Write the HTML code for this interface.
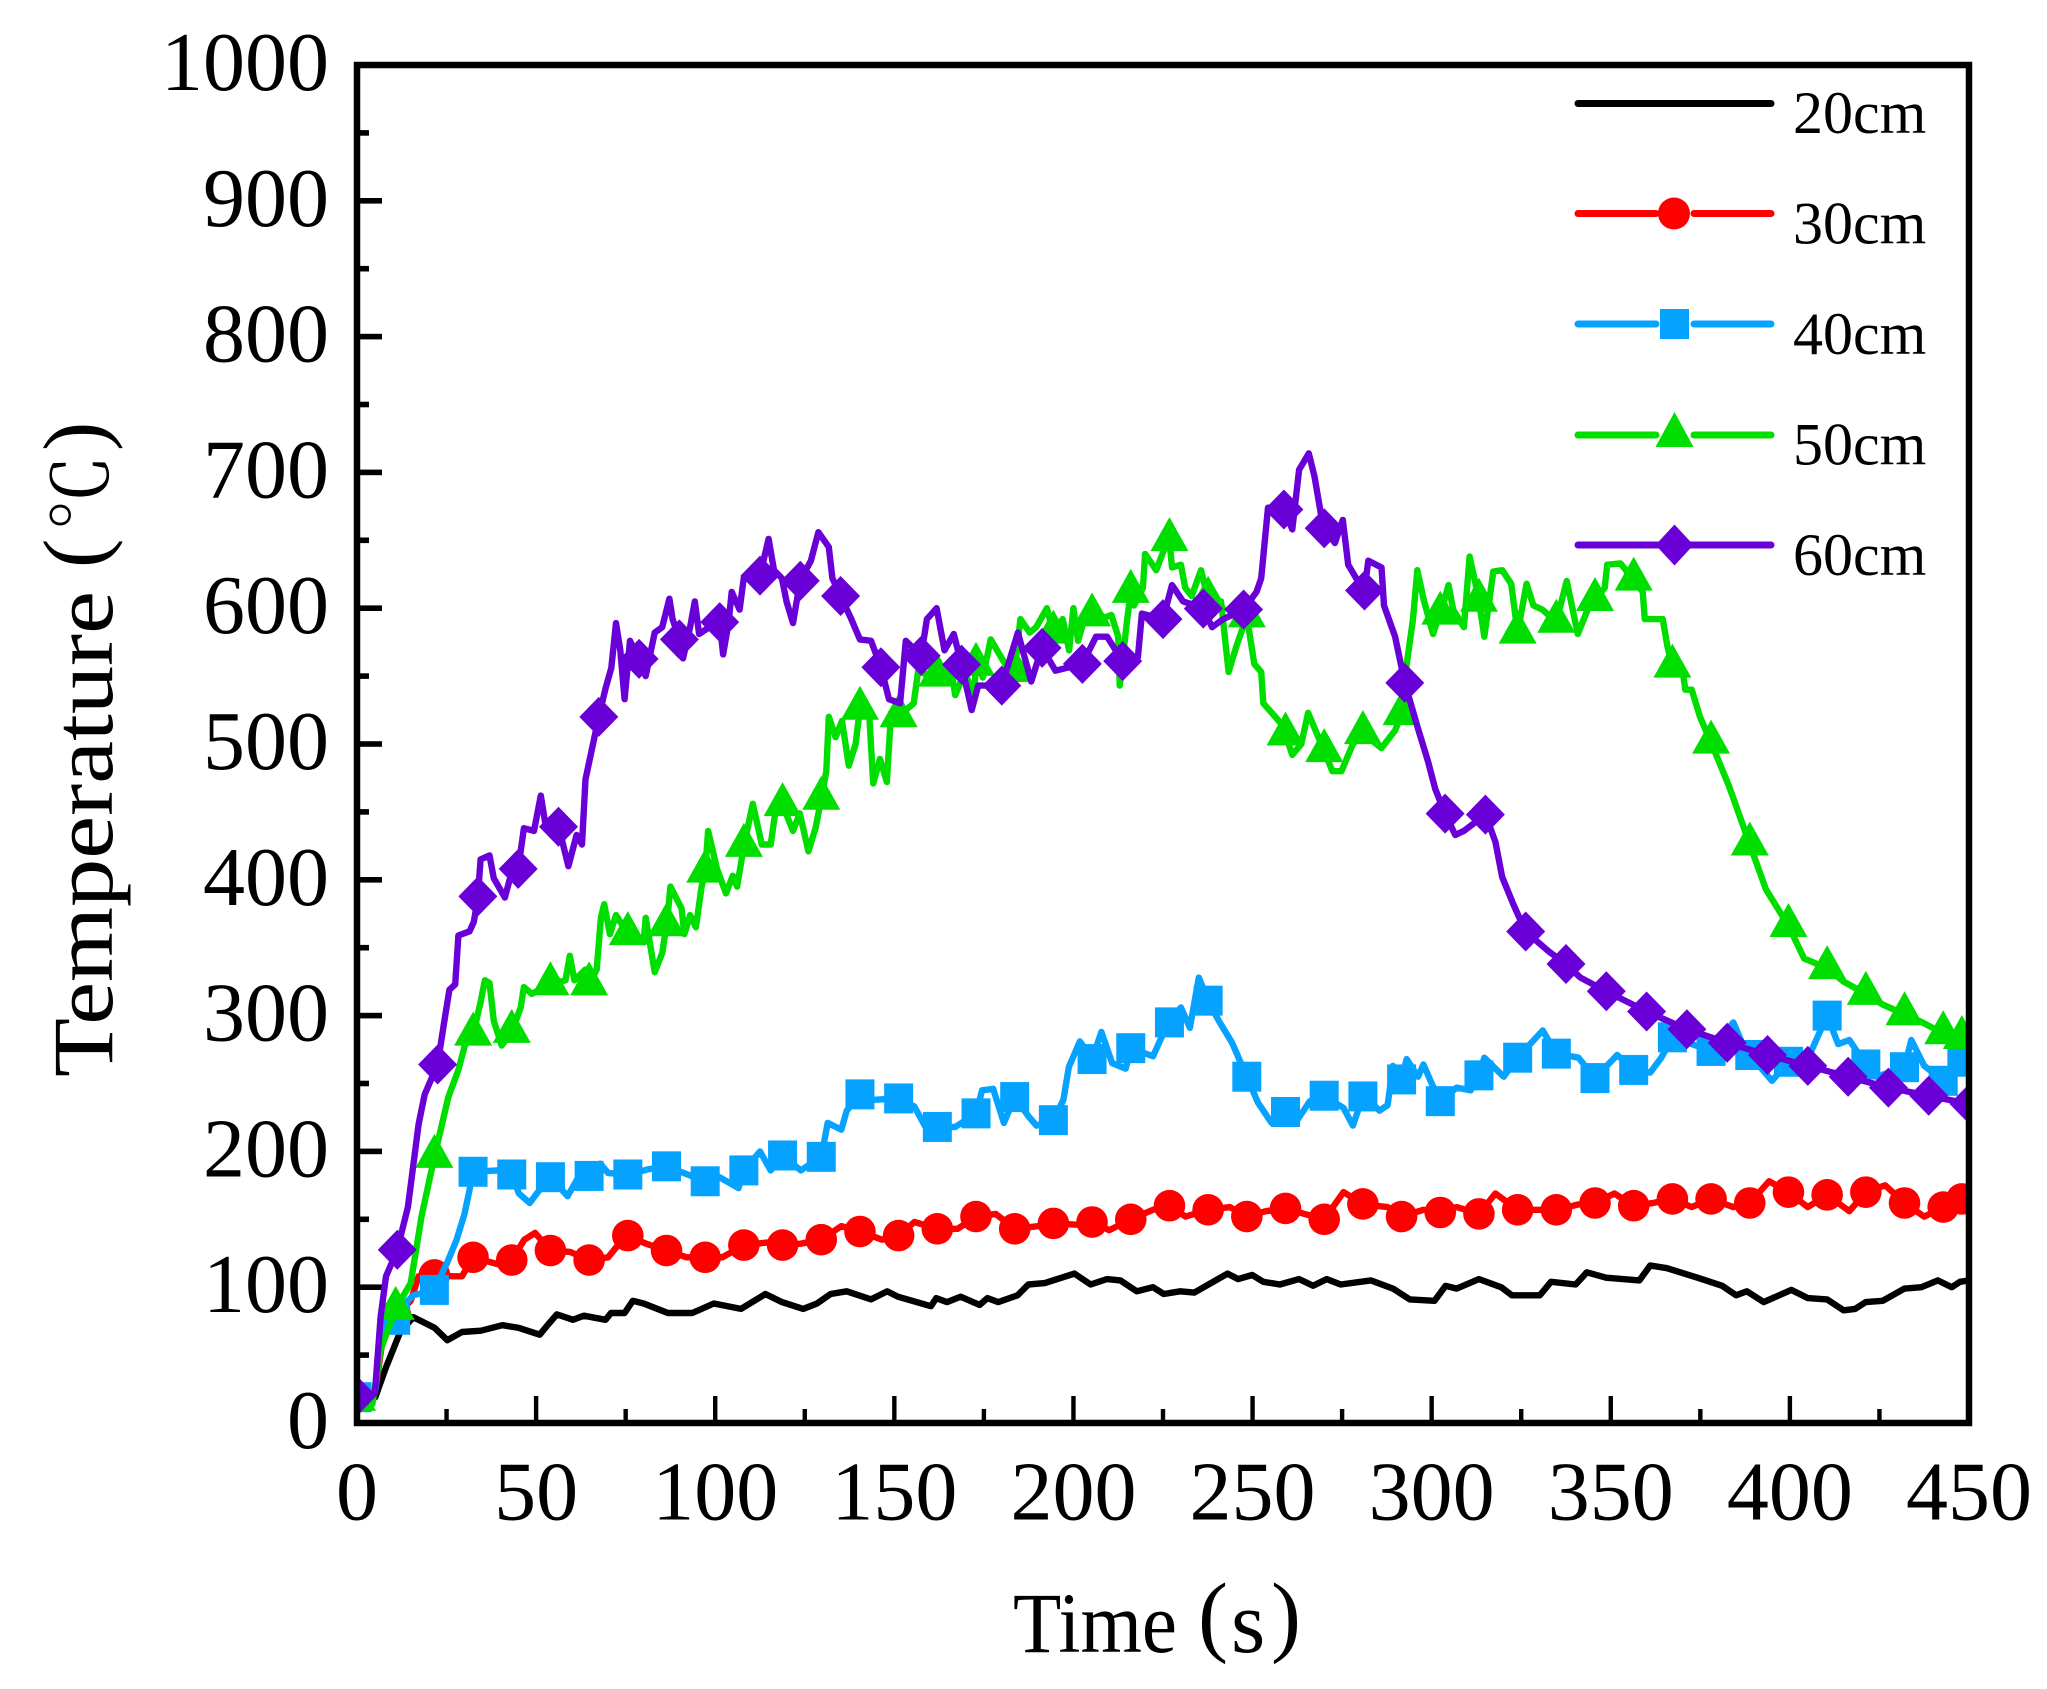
<!DOCTYPE html>
<html lang="en">
<head>
<meta charset="utf-8">
<title>Temperature vs Time</title>
<style>
  html, body { margin: 0; padding: 0; background: #fff; }
  svg { display: block; font-family: "Liberation Serif", "Noto Serif CJK SC", serif; fill: #000; }
</style>
</head>
<body>
<svg id="chart" xmlns="http://www.w3.org/2000/svg" width="2047" height="1689" viewBox="0 0 2047 1689">
  <defs>
    <clipPath id="plot-clip"><rect x="357" y="65" width="1612" height="1358"></rect></clipPath>
  </defs>
  <rect x="0" y="0" width="2047" height="1689" fill="#ffffff"></rect>
  <g id="ticks"></g>
  <g id="series" clip-path="url(#plot-clip)"></g>
  <rect x="357" y="65" width="1612" height="1358" fill="none" stroke="#000" stroke-width="6.5"></rect>
  <g id="tick-labels" font-size="84"></g>

  <g>
    <text x="1013" y="1652" font-size="86" textLength="164" lengthAdjust="spacingAndGlyphs">Time</text>
    <text x="1198" y="1645" font-size="90">(</text>
    <text x="1231" y="1652" font-size="88">s</text>
    <text x="1271" y="1645" font-size="90">)</text>
  </g>
  <g>
    <text transform="translate(112,1077) rotate(-90)" font-size="86" textLength="486" lengthAdjust="spacingAndGlyphs">Temperature</text>
    <text transform="translate(104,1071) rotate(-90) translate(503,0)" font-size="88">(</text>
    <text transform="translate(108,1071) rotate(-90) translate(540,0)" font-size="76" font-family="'Noto Serif CJK SC', serif">℃</text>
    <text transform="translate(104,1071) rotate(-90) translate(620,0)" font-size="88">)</text>
  </g>

  <g font-size="60">
    <g>
      <line x1="1578" x2="1771" y1="103.5" y2="103.5" stroke="#000000" stroke-width="7" stroke-linecap="round"></line>
      <text x="1793" y="133">20cm</text>
    </g>
    <g>
      <line x1="1578" x2="1656" y1="213.5" y2="213.5" stroke="#ff0000" stroke-width="7" stroke-linecap="round"></line>
      <line x1="1694" x2="1771" y1="213.5" y2="213.5" stroke="#ff0000" stroke-width="7" stroke-linecap="round"></line>
      <circle cx="1674" cy="213.5" r="16" fill="#ff0000"></circle>
      <text x="1793" y="243.5">30cm</text>
    </g>
    <g>
      <line x1="1578" x2="1656" y1="324" y2="324" stroke="#05a3ff" stroke-width="7" stroke-linecap="round"></line>
      <line x1="1694" x2="1771" y1="324" y2="324" stroke="#05a3ff" stroke-width="7" stroke-linecap="round"></line>
      <rect x="1660" y="309" width="29" height="30" fill="#05a3ff"></rect>
      <text x="1793" y="354">40cm</text>
    </g>
    <g>
      <line x1="1578" x2="1656" y1="435" y2="435" stroke="#00de00" stroke-width="7" stroke-linecap="round"></line>
      <line x1="1694" x2="1771" y1="435" y2="435" stroke="#00de00" stroke-width="7" stroke-linecap="round"></line>
      <polygon points="1674.5,412 1693.5,447 1655.5,447" fill="#00de00"></polygon>
      <text x="1793" y="464.5">50cm</text>
    </g>
    <g>
      <line x1="1578" x2="1771" y1="545" y2="545" stroke="#6a00d8" stroke-width="7" stroke-linecap="round"></line>
      <polygon points="1674.5,524.5 1693.5,545 1674.5,565.5 1655.5,545" fill="#6a00d8"></polygon>
      <text x="1793" y="575">60cm</text>
    </g>
  </g>
</svg>

<script>
const xTickLabels = [0, 50, 100, 150, 200, 250, 300, 350, 400, 450];
const xMinorTicks = [25, 75, 125, 175, 225, 275, 325, 375, 425];
const yTickLabels = [0, 100, 200, 300, 400, 500, 600, 700, 800, 900, 1000];
const yMinorTicks = [50, 150, 250, 350, 450, 550, 650, 750, 850, 950];

const times20 = [
  0,5.1,8.1,11.9,15.7,21.7,25.2,29.3,34.6,40.6,
  45.2,51,53.5,55.8,60.3,63.3,69.4,70.9,74.7,77,
  80,86.8,93.6,99.6,107.2,114,118.6,124.6,128.4,132.2,
  136.7,143.5,148,151,160.2,161.7,164.7,168.5,173.8,176,
  179,184.4,187.4,192,200.3,204.8,209.3,213.1,217.7,222.2,
  225.2,229.8,233.7,239,243,246,249.9,253,257.6,263,
  266.9,270.7,274.6,283,289.2,293.9,300.8,303.9,307,313.2,
  319.4,322.4,330.2,333.3,340.2,343.3,348.7,358,361,365.7,
  374.2,381.1,385,388,392.7,400.4,405,410.4,415,418.2,
  421.2,425.9,432,436.7,441.3,445.2,447.5,450];
const values20 = [
  16,19,41,66,78,70,61,67,68,72,
  70,65,73,80,76,79,76,81,81,90,
  88,81,81,88,84,95,89,84,88,95,
  97,91,97,93,86,92,89,93,87,92,
  89,94,102,103,110,102,106,105,97,100,
  95,97,96,104,110,106,109,104,102,106,
  101,106,102,105,99,91,90,101,99,106,
  100,94,94,104,102,111,107,105,116,114,
  107,101,94,97,89,98,92,91,83,84,
  89,90,99,100,105,100,104,105];

const times30 = [
  0,5,7.4,10.4,15,17.2,21.6,27,29.3,32.4,
  39.1,43.2,46.7,49.7,54,59.5,64.8,70.1,73.2,75.6,
  80.7,86.4,92,97.2,102,108,114.8,118.8,123.9,129.6,
  135.2,140.4,146.6,151.2,155.6,162,167.7,172.8,178.3,183.6,
  190.4,194.4,201,205.2,210,216,222.2,226.8,231.3,237.6,
  243.7,248.4,253.7,259.2,264.5,270,275.4,281,287.7,291.6,
  297.7,302.4,307,313.2,317.8,324,329.4,334.8,341,345.6,
  351,356.4,361.8,367.2,372.6,378,384.2,388.8,394.2,399.6,
  405,410.4,416.6,421.2,426.6,432,437.5,442.8,448,450];
const values30 = [
  19,22,66,78,90,108,109,108,108,122,
  117,120,135,140,127,126,120,122,132,138,
  132,127,122,122,122,131,133,131,132,135,
  145,141,135,138,148,143,143,152,154,143,
  145,147,146,148,142,150,157,160,152,157,
  159,152,156,158,154,150,170,161,159,152,
  157,155,159,154,169,157,157,157,161,162,
  169,160,162,165,159,165,159,162,178,170,
  159,168,156,170,175,162,152,159,165,166];

const times40 = [
  0,5.1,6.6,8.1,10.8,14.2,15.7,21.6,25.5,27.8,
  30,31.6,32.4,39,43.2,45.2,48.2,50.5,54,58.8,
  61.8,65,67.9,70.1,75.6,81.5,86.4,91.3,97.2,101.2,
  106.5,108,112.5,115.5,118.8,123.9,129.6,131.4,135.2,136.7,
  140.4,144.3,151.2,155.6,158.7,162,167,172.8,174.5,177.6,
  180.6,183.6,187.4,189.7,194.4,197.2,198.7,201.8,205.2,207.8,
  210.8,214.6,216,222.2,224.4,226.8,230,232.5,235,237.6,
  240.6,244.3,248.4,251.5,255.3,259.2,262.2,266,270,275.4,
  278,281,285.4,287.7,289.2,291.6,293,296.2,297.7,300,
  302.4,307,310.9,313.2,314.7,320.1,324,331,334.8,341,
  345.6,351.8,356.4,361,364.1,367.2,378,384.2,387.3,388.8,
  395,399.6,405.8,410.4,413.5,416.6,421.2,424.3,432,433.9,
  437.5,442.8,448,450];
const values40 = [
  19,24,59,68,76,90,94,98,120,135,
  154,174,185,186,183,169,162,170,181,167,
  181,182,191,184,183,187,189,184,178,181,
  173,186,200,186,197,186,196,221,216,230,
  242,238,239,233,218,218,218,228,245,246,
  221,240,226,219,223,238,262,281,268,288,
  265,261,276,270,283,295,306,291,328,311,
  296,280,255,236,221,229,222,237,241,232,
  219,242,230,234,263,253,268,255,264,250,
  237,247,245,256,269,255,269,289,272,269,
  254,271,260,258,269,284,274,295,276,271,
  252,266,273,300,279,282,264,255,262,282,
  263,252,266,256];

const times50 = [
  0,4.3,6.6,10.8,15,18,21.6,25.5,28.3,30.1,
  32.4,34.5,35.7,37,38.2,40.4,43.2,45.7,46.6,48.8,
  53.9,58.2,59.4,60.7,63.8,64.8,66.9,68.1,69,70.6,
  72.3,75.6,80,80.6,83.1,85.2,86.6,87.5,90.6,91.4,
  93,94.6,96.2,97.2,98,100.5,103,104.9,106.1,108,
  110.5,113,115.5,116.7,118.8,121.7,123.6,126,128,129.7,
  131,131.7,133.6,135.4,137.3,139.2,140.4,142.9,144.1,146,
  147.9,149.1,151,155.4,156.6,161.5,166,167,169.7,172.2,
  173,174.7,176.9,180.9,183.4,185.2,187.8,189.6,192.6,194.5,
  197,198.8,200,201.3,203.8,205,207.5,210.6,212.5,212.9,
  215,216,216.9,219.4,220,223.1,225,226.7,227.5,230,
  231.2,233,235.6,237.6,241.2,243.3,245.5,248.4,250.5,252.4,
  253,258,259.2,261.1,263.6,265.5,269.5,272.3,274.8,278,
  280.8,286,289.8,291.6,292.9,294.8,296,297.9,300.4,301.8,
  302.6,304.7,306,309,310.6,313,314.7,317.2,319.7,322.2,
  324,326.5,328.4,330.9,334.8,337.7,340.8,344,345.6,348.3,
  349,352.7,356.4,358.9,359.5,364.5,365.8,367.2,370.1,370.8,
  372.6,374.9,378,383,388.8,393.3,399.6,404,410.4,415,
  421.2,426,432,437,442.8,446,450];
const values50 = [
  17,14,54,84,103,152,196,240,260,278,
  286,310,326,324,296,278,288,306,321,316,
  323,326,344,326,334,323,334,372,382,360,
  374,360,354,372,332,346,370,395,379,360,
  374,365,395,406,436,408,390,403,395,425,
  456,426,426,448,455,436,449,421,438,461,
  480,520,505,517,484,500,526,526,471,489,
  472,523,520,530,553,550,553,536,553,535,
  566,549,577,559,549,592,582,586,600,581,
  592,569,600,576,599,595,592,595,579,543,
  592,612,602,615,640,628,641,653,630,632,
  615,609,628,607,605,553,572,594,559,553,
  530,515,507,492,500,523,498,480,480,500,
  508,497,510,522,556,592,628,605,581,593,
  597,617,599,586,638,609,579,627,628,618,
  582,618,602,599,590,620,581,602,606,615,
  632,633,621,612,592,592,572,557,553,540,
  540,520,501,469,426,393,366,342,335,325,
  316,308,301,295,287,285,282];

const times60 = [
  0,3,5,6.6,8.1,11.2,14.2,17.2,18.9,22.5,
  24.2,25.8,27.4,28.3,31.4,32.6,33.7,34.5,37,38.2,
  41.3,42.6,45,46.6,49.4,51.3,52.6,56.3,59,61.3,
  62.8,63.8,67.5,69.4,71,72.3,73.5,74.7,76.2,78.7,
  80.6,83.1,85.2,87.2,88.1,90,91,93,94.3,95.5,
  101.2,102.2,103.7,104.6,106.8,108,112.5,114.9,116.4,118.6,
  119.9,121.7,123.7,126.7,128.8,131.7,132.7,135,138,140.4,
  143.5,146.2,148.5,151.6,153.2,157.5,159.1,161.8,164,166.6,
  168.7,171.6,173.4,180,184.5,188.2,191.2,195,202.5,206.3,
  209.4,213.7,218,219.1,225,227.5,230.6,236.2,238.7,241.8,
  247.5,251.1,252.4,254.3,258.7,261.1,263,265.7,267.3,269.7,
  273,275.2,276.7,281.2,282.3,286,286.7,289.8,292.5,296,
  299,301,303.7,306.6,309,315,317.8,319.7,322.8,326.2,
  332.8,337.5,341.5,348.7,354,360,371.2,382.5,393.7,405,
  416.2,427.5,438.7,450];
const values60 = [
  20,20,22,78,108,127,159,220,242,264,
  293,319,323,359,362,369,386,415,418,401,
  387,400,408,438,436,462,441,439,410,433,
  426,474,520,541,556,589,569,533,576,563,
  550,582,586,607,592,577,563,586,605,581,
  591,566,589,612,599,623,624,651,628,622,
  605,589,620,635,656,645,622,609,592,577,
  576,557,533,530,576,565,592,600,569,581,
  559,525,543,543,582,546,571,554,559,579,
  579,561,564,596,592,617,605,600,586,592,
  599,612,622,674,673,658,702,714,697,660,
  648,665,632,612,635,630,602,579,545,513,
  487,467,449,433,436,448,428,402,382,362,
  347,338,328,318,311,303,290,280,271,263,
  255,247,241,235];

const xScale = function (t) { return 357 + t * (1612 / 450); };
const yScale = function (v) { return 1423 - v * (1358 / 1000); };

const SVG_NS = 'http://www.w3.org/2000/svg';
const ticksGroup = document.getElementById('ticks');
const labelsGroup = document.getElementById('tick-labels');
const seriesGroup = document.getElementById('series');

function make(tag, attrs, parent) {
  const node = document.createElementNS(SVG_NS, tag);
  Object.keys(attrs).forEach(function (k) { node.setAttribute(k, attrs[k]); });
  parent.appendChild(node);
  return node;
}

function valueAt(times, values, t) {
  if (t <= times[0]) return values[0];
  for (let i = 1; i < times.length; i++) {
    if (t <= times[i]) {
      const f = (t - times[i - 1]) / (times[i] - times[i - 1]);
      return values[i - 1] + f * (values[i] - values[i - 1]);
    }
  }
  return values[values.length - 1];
}

xTickLabels.forEach(function (v) {
  const tick = make('rect', { x: xScale(v) - 2.2, y: 1396, width: 4.4, height: 27, fill: '#000' }, ticksGroup);
  
  
  const label = make('text', { x: xScale(v), y: 1519.5, 'text-anchor': 'middle' }, labelsGroup);
  label.textContent = String(v);
  
  
});
xMinorTicks.forEach(function (v) {
  const tick = make('rect', { x: xScale(v) - 2.2, y: 1409, width: 4.4, height: 14, fill: '#000' }, ticksGroup);
  
  
});
yTickLabels.forEach(function (v) {
  const tick = make('rect', { x: 357, y: yScale(v) - 2.8, width: 25, height: 5.6, fill: '#000' }, ticksGroup);
  
  
  const label = make('text', { x: 329, y: yScale(v) + 25, 'text-anchor': 'end' }, labelsGroup);
  label.textContent = String(v);
  
  
});
yMinorTicks.forEach(function (v) {
  const tick = make('rect', { x: 357, y: yScale(v) - 2.8, width: 12, height: 5.6, fill: '#000' }, ticksGroup);
  
  
});

function drawLine(times, values, color, name) {
  const pts = times.map(function (t, i) { return xScale(t).toFixed(1) + ',' + yScale(values[i]).toFixed(1); }).join(' ');
  const line = make('polyline', { points: pts, fill: 'none', stroke: color, 'stroke-width': 6.4, 'stroke-linejoin': 'round', 'stroke-linecap': 'round' }, seriesGroup);
  
  
}

function drawMarker(kind, t, v, color, name) {
  const cx = xScale(t), cy = yScale(v);
  let node;
  if (kind === 'circle') {
    node = make('circle', { cx: cx, cy: cy, r: 15.8, fill: color }, seriesGroup);
  } else if (kind === 'square') {
    node = make('rect', { x: cx - 14.5, y: cy - 15, width: 29, height: 30, fill: color }, seriesGroup);
  } else if (kind === 'triangle') {
    node = make('polygon', { points: (cx) + ',' + (cy - 23) + ' ' + (cx + 19) + ',' + (cy + 11) + ' ' + (cx - 19) + ',' + (cy + 11), fill: color }, seriesGroup);
  } else {
    node = make('polygon', { points: (cx) + ',' + (cy - 20) + ' ' + (cx + 19.5) + ',' + cy + ' ' + (cx) + ',' + (cy + 20) + ' ' + (cx - 19.5) + ',' + cy, fill: color }, seriesGroup);
  }
  
  
}

function drawMarkers(times, values, step, lastTime, kind, color, name) {
  for (let i = 0; i * step <= 450; i++) {
    drawMarker(kind, i * step, valueAt(times, values, i * step), color, name);
  }
  if (lastTime !== null) drawMarker(kind, lastTime, valueAt(times, values, lastTime), color, name);
}

drawLine(times20, values20, '#000000', 'line-20cm');
drawLine(times30, values30, '#ff0000', 'line-30cm');
drawMarkers(times30, values30, 10.8, 448, 'circle', '#ff0000', 'point-30cm');
drawLine(times40, values40, '#05a3ff', 'line-40cm');
drawMarkers(times40, values40, 10.8, 448, 'square', '#05a3ff', 'point-40cm');
drawLine(times50, values50, '#00de00', 'line-50cm');
drawMarkers(times50, values50, 10.8, 448, 'triangle', '#00de00', 'point-50cm');
drawLine(times60, values60, '#6a00d8', 'line-60cm');
drawMarkers(times60, values60, 11.25, null, 'diamond', '#6a00d8', 'point-60cm');
</script>
</body>
</html>
